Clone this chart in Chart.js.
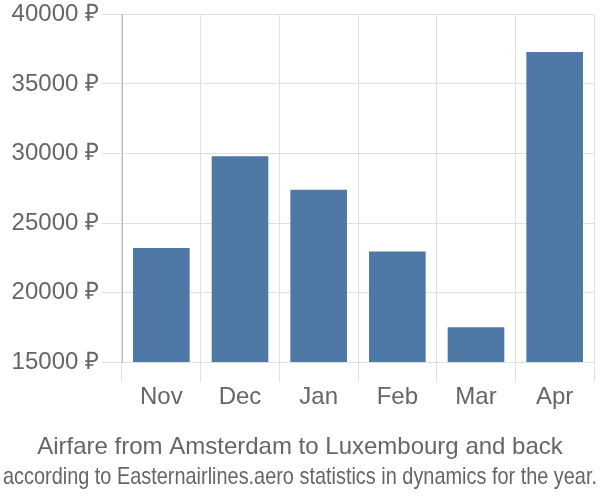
<!DOCTYPE html>
<html>
<head>
<meta charset="utf-8">
<script src="https://cdn.jsdelivr.net/npm/chart.js@4/dist/chart.umd.min.js"></script>
<style>
  html, body { margin: 0; padding: 0; background: #fff; }
</style>
</head>
<body>
<canvas id="c" width="600" height="500"></canvas>
<script>
const categories = ["Nov", "Dec", "Jan", "Feb", "Mar", "Apr"];
const prices = [23200, 29800, 27400, 22950, 17500, 37300];
const yTicks = [15000, 20000, 25000, 30000, 35000, 40000];
const titleText = "Airfare from Amsterdam to Luxembourg and back";
const subtitleText = "according to Easternairlines.aero statistics in dynamics for the year.";
const currency = " ₽";

const FONT = "'Liberation Sans', Arial, sans-serif";

new Chart(document.getElementById('c'), {
  type: 'bar',
  data: {
    labels: categories,
    datasets: [{
      data: prices,
      backgroundColor: '#4e79a7',
      borderWidth: 0,
      categoryPercentage: 0.9,
      barPercentage: 0.8
    }]
  },
  options: {
    responsive: false,
    animation: false,
    devicePixelRatio: 1,
    layout: { padding: { top: 0, left: 3, right: 3, bottom: 0 } },
    plugins: {
      legend: { display: false },
      tooltip: { enabled: false },
      title: {
        display: true,
        text: titleText,
        position: 'bottom',
        weight: 1000,
        color: '#666',
        font: { family: FONT, size: 24, weight: 'normal' },
        padding: { top: 1, bottom: 0 }
      },
      subtitle: {
        display: true,
        text: subtitleText,
        position: 'bottom',
        weight: 2000,
        color: '#666',
        font: { family: FONT, size: 24, weight: 'normal' },
        padding: { top: 1.2, bottom: 8.6 }
      }
    },
    scales: {
      x: {
        grid: { color: '#e0e0e0', lineWidth: 1, tickLength: 20, offset: true },
        border: { display: false },
        ticks: { color: '#666', font: { family: FONT, size: 24 }, padding: 1 },
        afterFit(s) { s.height = 69.6; s.paddingRight = 6; }
      },
      y: {
        min: 15000,
        max: 40000,
        afterBuildTicks(s) { s.ticks = yTicks.map(v => ({ value: v })); },
        grid: { color: '#e0e0e0', lineWidth: 1, tickLength: 20 },
        border: { display: true, color: '#bbb' },
        ticks: {
          color: '#666',
          font: { family: FONT, size: 24 },
          padding: 3,
          callback: v => v + currency
        },
        afterFit(s) { s.width = 119; s.paddingTop = 14.5; }
      }
    }
  }
});
</script>
</body>
</html>
